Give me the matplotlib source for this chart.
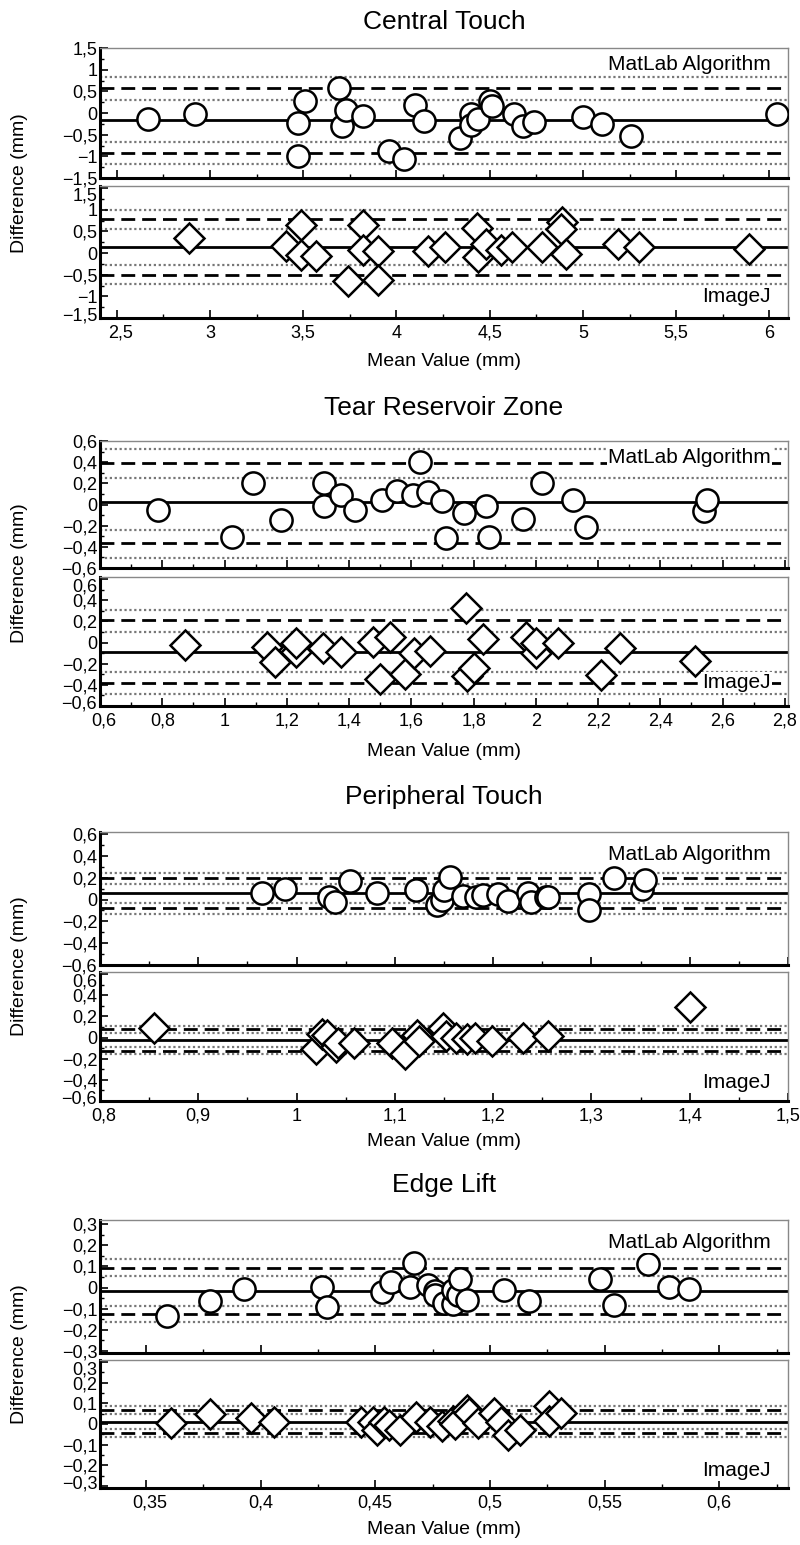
import matplotlib
matplotlib.use('Agg')
import matplotlib.pyplot as plt
import matplotlib.ticker as mticker
from matplotlib.transforms import ScaledTranslation

plt.rcParams['font.family'] = ['Liberation Sans Narrow', 'Liberation Sans', 'DejaVu Sans']

# ---- Central Touch ----
cent_ml_x = [2.665, 2.92, 3.47, 3.51, 3.47, 3.69, 3.71, 3.73, 3.82, 3.96, 4.04, 4.10, 4.15,
             4.34, 4.40, 4.40, 4.44, 4.50, 4.51, 4.63, 4.68, 4.74, 5.00, 5.10, 5.26, 6.04]
cent_ml_y = [-0.14, -0.02, -0.24, 0.28, -0.99, 0.57, -0.30, 0.06, -0.06, -0.88, -1.07, 0.18, -0.18,
             -0.57, -0.02, -0.28, -0.13, 0.28, 0.16, -0.02, -0.30, -0.20, -0.09, -0.26, -0.53, -0.02]
cent_ml_lines = [-0.17, 0.57, -0.92, 0.83, 0.31, -0.66, -1.18]   # mean, upper, lower, CIs
cent_ij_x = [2.886, 3.405, 3.49, 3.49, 3.57, 3.74, 3.82, 3.82, 3.90, 3.90, 4.17, 4.26,
             4.43, 4.44, 4.48, 4.56, 4.62, 4.78, 4.89, 4.88, 4.91, 5.19, 5.30, 5.89]
cent_ij_y = [0.36, 0.16, 0.64, -0.05, -0.07, -0.64, 0.64, 0.06, 0.04, -0.62, 0.04, 0.14,
             0.58, -0.09, 0.21, 0.06, 0.14, 0.14, 0.72, 0.55, -0.02, 0.20, 0.14, 0.10]
cent_ij_lines = [0.14, 0.78, -0.51, 0.99, 0.55, -0.27, -0.72]

# ---- Tear Reservoir Zone ----
tear_ml_x = [0.787, 1.025, 1.09, 1.18, 1.32, 1.32, 1.375, 1.42, 1.507, 1.555, 1.607, 1.627,
             1.654, 1.70, 1.71, 1.77, 1.84, 1.85, 1.96, 2.02, 2.12, 2.16, 2.54, 2.55]
tear_ml_y = [-0.05, -0.31, 0.20, -0.15, 0.20, -0.01, 0.09, -0.05, 0.04, 0.13, 0.09, 0.40,
             0.12, 0.03, -0.32, -0.08, -0.01, -0.31, -0.14, 0.20, 0.04, -0.21, -0.06, 0.04]
tear_ml_lines = [0.02, 0.39, -0.36, 0.52, 0.25, -0.24, -0.51]
tear_ij_x = [0.873, 1.135, 1.162, 1.23, 1.23, 1.315, 1.375, 1.477, 1.50, 1.53, 1.58, 1.61,
             1.66, 1.775, 1.78, 1.80, 1.83, 1.97, 2.00, 2.00, 2.07, 2.21, 2.27, 2.51]
tear_ij_y = [-0.025, -0.04, -0.18, -0.09, 0.0, -0.05, -0.09, 0.006, -0.34, 0.05, -0.30, -0.10,
             -0.08, 0.33, -0.32, -0.24, 0.03, 0.05, -0.10, 0.0, 0.0, -0.31, -0.05, -0.17]
tear_ij_lines = [-0.09, 0.21, -0.38, 0.31, 0.10, -0.28, -0.49]

# ---- Peripheral Touch ----
peri_ml_x = [0.965, 0.988, 1.033, 1.039, 1.054, 1.082, 1.122, 1.143, 1.148, 1.150, 1.156, 1.169,
             1.183, 1.19, 1.205, 1.215, 1.235, 1.239, 1.254, 1.256, 1.298, 1.298, 1.323, 1.351, 1.355]
peri_ml_y = [0.06, 0.10, 0.02, -0.02, 0.17, 0.06, 0.09, -0.05, 0.0, 0.085, 0.21, 0.03,
             0.02, 0.04, 0.05, -0.01, 0.06, -0.02, 0.02, 0.02, 0.05, -0.10, 0.20, 0.10, 0.18]
peri_ml_lines = [0.06, 0.20, -0.08, 0.245, 0.146, -0.035, -0.13]
peri_ij_x = [0.855, 1.02, 1.026, 1.031, 1.04, 1.042, 1.058, 1.097, 1.11, 1.123, 1.125, 1.149,
             1.152, 1.162, 1.173, 1.182, 1.199, 1.23, 1.256, 1.40]
peri_ij_y = [0.086, -0.11, 0.03, 0.02, -0.09, -0.05, -0.05, -0.05, -0.155, 0.02, -0.03, 0.09,
             0.015, 0.0, -0.015, 0.0, -0.03, 0.0, 0.015, 0.29]
peri_ij_lines = [-0.025, 0.077, -0.123, 0.11, 0.04, -0.09, -0.16]

# ---- Edge Lift ----
edge_ml_x = [0.359, 0.378, 0.393, 0.427, 0.429, 0.453, 0.457, 0.465, 0.467, 0.473, 0.476, 0.476,
             0.480, 0.484, 0.484, 0.486, 0.487, 0.490, 0.506, 0.517, 0.548, 0.554, 0.569, 0.578, 0.587]
edge_ml_y = [-0.134, -0.066, -0.008, 0.005, -0.093, -0.019, 0.025, 0.005, 0.115, 0.013, -0.014, -0.035,
             -0.074, -0.077, -0.011, -0.035, 0.04, -0.061, -0.011, -0.066, 0.04, -0.082, 0.112, 0.005, -0.006]
edge_ml_lines = [-0.018, 0.094, -0.124, 0.134, 0.055, -0.086, -0.165]
edge_ij_x = [0.361, 0.378, 0.396, 0.406, 0.444, 0.449, 0.451, 0.454, 0.456, 0.461, 0.468, 0.474,
             0.479, 0.484, 0.485, 0.490, 0.491, 0.495, 0.502, 0.505, 0.508, 0.513, 0.526, 0.526, 0.531]
edge_ij_y = [0.003, 0.047, 0.028, 0.008, 0.011, 0.008, -0.028, 0.008, -0.003, -0.031, 0.034, 0.008,
             -0.008, 0.016, 0.0, 0.07, 0.055, 0.003, 0.055, 0.008, -0.055, -0.031, 0.086, 0.016, 0.055]
edge_ij_lines = [0.008, 0.067, -0.044, 0.086, 0.047, -0.023, -0.063]

titles = ["Central Touch", "Tear Reservoir Zone", "Peripheral Touch", "Edge Lift"]

W, H = 800, 1545
fig = plt.figure(figsize=(8, 15.45), dpi=100)


def fmt(v, pos):
    s = f"{v:.2f}".rstrip('0').rstrip('.')
    if s == "-0":
        s = "0"
    return s.replace('.', ',').replace('-', '\u2212')


def make_ax(top, bot):
    return fig.add_axes([100 / W, 1 - bot / H, 688 / W, (bot - top) / H])


def draw_panel(ax, xs, ys, lines, marker, ms, xlim, xstep, ylim, ystep, label, ly, show_x):
    mean, up, lo, c1, c2, c3, c4 = lines
    for v in (c1, c2, c3, c4):
        ax.axhline(v, color='#777777', ls=(0, (1, 1.2)), lw=1.6, zorder=1)
    ax.axhline(up, color='black', ls=(0, (5, 2.5)), lw=2, zorder=2)
    ax.axhline(lo, color='black', ls=(0, (5, 2.5)), lw=2, zorder=2)
    ax.axhline(mean, color='black', ls='-', lw=2, zorder=2)
    ax.plot(xs, ys, ls='none', marker=marker, ms=ms, mfc='white', mec='black', mew=1.8, zorder=3)
    ax.text(0.975, ly, label, transform=ax.transAxes, ha='right', va='center', fontsize=15,
            bbox=dict(boxstyle='square,pad=0.05', fc='white', ec='none'), zorder=4)
    ax.set_xlim(*xlim)
    ax.set_ylim(*ylim)
    ax.xaxis.set_major_locator(mticker.MultipleLocator(xstep))
    ax.xaxis.set_minor_locator(mticker.MultipleLocator(xstep / 2))
    ax.yaxis.set_major_locator(mticker.MultipleLocator(ystep))
    ax.yaxis.set_minor_locator(mticker.MultipleLocator(ystep / 2))
    ax.xaxis.set_major_formatter(mticker.FuncFormatter(fmt))
    ax.yaxis.set_major_formatter(mticker.FuncFormatter(fmt))
    ax.tick_params(axis='both', which='major', direction='in', length=6, width=1.2,
                   labelsize=13, pad=3)
    ax.tick_params(axis='both', which='minor', direction='in', length=3, width=1)
    ax.tick_params(axis='y', pad=2)
    ax.tick_params(axis='x', pad=5)
    if not show_x:
        ax.tick_params(axis='x', labelbottom=False)
    for s in ('left', 'bottom'):
        ax.spines[s].set_linewidth(2.2)
        ax.spines[s].set_color('black')
    for s in ('top', 'right'):
        ax.spines[s].set_linewidth(1)
        ax.spines[s].set_color('#888888')


groups = [
    (cent_ml_x, cent_ml_y, cent_ml_lines, cent_ij_x, cent_ij_y, cent_ij_lines,
     (2.41, 6.1), 0.5, (-1.5, 1.5), (-1.5, 1.55), 0.5),
    (tear_ml_x, tear_ml_y, tear_ml_lines, tear_ij_x, tear_ij_y, tear_ij_lines,
     (0.6, 2.81), 0.2, (-0.6, 0.6), (-0.6, 0.62), 0.2),
    (peri_ml_x, peri_ml_y, peri_ml_lines, peri_ij_x, peri_ij_y, peri_ij_lines,
     (0.8, 1.5), 0.1, (-0.6, 0.62), (-0.6, 0.62), 0.2),
    (edge_ml_x, edge_ml_y, edge_ml_lines, edge_ij_x, edge_ij_y, edge_ij_lines,
     (0.33, 0.63), 0.05, (-0.31, 0.32), (-0.31, 0.31), 0.1),
]

boxes = [((48, 178), (186, 318)), ((441, 568), (577, 706)),
         ((832, 965), (972, 1101)), ((1220, 1353), (1360, 1488))]
title_y = [22, 408, 797, 1185]
xlab_y = [362, 752, 1142, 1530]
ml_ly = [0.87, 0.87, 0.83, 0.83]
ij_ly = [0.16, 0.18, 0.14, 0.14]

bottom_axes = []
for i, g in enumerate(groups):
    mlx, mly, mll, ijx, ijy, ijl, xlim, xstep, ylt, ylb, ystep = g
    (t1, b1), (t2, b2) = boxes[i]
    ax1 = make_ax(t1, b1)
    ax2 = make_ax(t2, b2)
    draw_panel(ax1, mlx, mly, mll, 'o', 16, xlim, xstep, ylt, ystep,
               "MatLab Algorithm", ml_ly[i], False)
    draw_panel(ax2, ijx, ijy, ijl, 'D', 15, xlim, xstep, ylb, ystep,
               "ImageJ", ij_ly[i], True)
    bottom_axes.append(ax2)
    fig.text(444 / W, 1 - title_y[i] / H, titles[i], ha='center', va='center', fontsize=19,
             family=['Liberation Sans', 'DejaVu Sans'])
    fig.text(444 / W, 1 - xlab_y[i] / H, "Mean Value (mm)", ha='center', va='center', fontsize=14)
    fig.text(20 / W, 1 - ((t1 + b2) / 2) / H, "Difference (mm)", ha='center', va='center',
             rotation=90, fontsize=14)

# nudge the end labels of each lower panel's y axis inward so they clear their neighbours
fig.canvas.draw()
for ax in bottom_axes:
    lo, hi = ax.get_ylim()
    ticks = [t for t in ax.yaxis.get_major_ticks() if lo - 1e-9 <= t.get_loc() <= hi + 1e-9]
    top_tick = max(ticks, key=lambda t: t.get_loc())
    bot_tick = min(ticks, key=lambda t: t.get_loc())
    lab = top_tick.label1
    lab.set_transform(lab.get_transform() + ScaledTranslation(0, -6 / 100, fig.dpi_scale_trans))
    lab = bot_tick.label1
    lab.set_transform(lab.get_transform() + ScaledTranslation(0, 4 / 100, fig.dpi_scale_trans))
    xt = [t for t in ax.xaxis.get_major_ticks()]
    x0 = ax.get_xlim()[0]
    first = min((t for t in xt if t.get_loc() >= x0 - 1e-9), key=lambda t: t.get_loc())
    lab = first.label1
    lab.set_transform(lab.get_transform() + ScaledTranslation(4 / 100, 0, fig.dpi_scale_trans))

fig.savefig("out.png", dpi=100)
print("Saved to out.png")
